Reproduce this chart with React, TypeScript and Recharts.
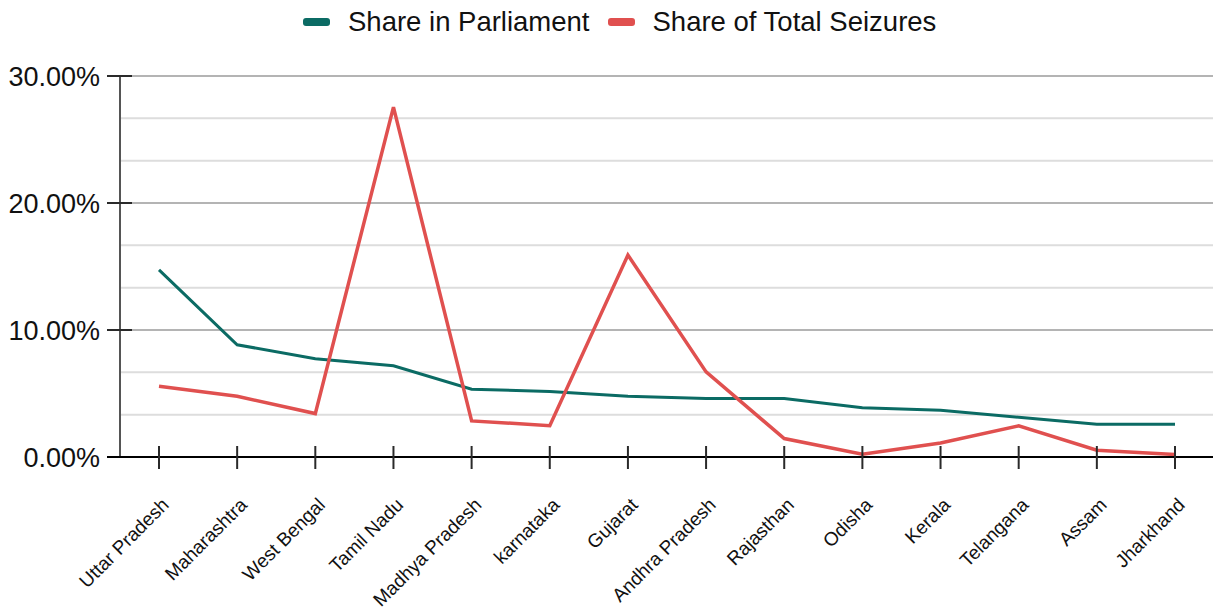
import { LineChart, Line, XAxis, YAxis, ReferenceLine, Legend } from 'recharts'

// states in the order shown on the x axis
const states = [
  'Uttar Pradesh',
  'Maharashtra',
  'West Bengal',
  'Tamil Nadu',
  'Madhya Pradesh',
  'karnataka',
  'Gujarat',
  'Andhra Pradesh',
  'Rajasthan',
  'Odisha',
  'Kerala',
  'Telangana',
  'Assam',
  'Jharkhand',
]

// percent values
const parliamentShare = [14.73, 8.84, 7.73, 7.18, 5.34, 5.16, 4.79, 4.6, 4.6, 3.87, 3.68, 3.13, 2.58, 2.58]
const seizureShare = [5.57, 4.78, 3.42, 27.55, 2.84, 2.47, 15.9, 6.7, 1.45, 0.21, 1.1, 2.45, 0.53, 0.2]

const yTicks = [0, 3.333, 6.667, 10, 13.333, 16.667, 20, 23.333, 26.667, 30]
const yLabelled = [0, 10, 20, 30]

const data = states.map((state, i) => ({
  state,
  parliament: parliamentShare[i],
  seizures: seizureShare[i],
}))

const FONT = '"Liberation Sans", Arial, Helvetica, sans-serif'
const TEAL = '#0b6b64'
const RED = '#e0504f'

function StateTick({ x, y, payload }: any) {
  const tx = x + 11
  const ty = y + 49
  return (
    <g>
      <line x1={x} x2={x} y1={y - 11} y2={y + 12} stroke='#2a2a2a' strokeWidth={2} />
      <text
        x={tx}
        y={ty}
        textAnchor='end'
        transform={`rotate(-45, ${tx}, ${ty})`}
        fontSize={19}
        fontFamily={FONT}
        fill='#111'
      >
        {payload.value}
      </text>
    </g>
  )
}

function PercentTick({ x, y, payload }: any) {
  const value = payload.value
  if (!yLabelled.includes(value)) return <g />
  return (
    <g>
      <line
        x1={x - 13}
        x2={x + 12}
        y1={y}
        y2={y}
        stroke={value === 0 ? '#000' : '#2a2a2a'}
        strokeWidth={2}
      />
      <text
        x={x - 20}
        y={y}
        dy='0.36em'
        textAnchor='end'
        fontSize={27}
        fontFamily={FONT}
        fill='#111'
      >
        {value.toFixed(2)}%
      </text>
    </g>
  )
}

function LegendContent({ payload }: any) {
  return (
    <div
      style={{
        height: 76,
        display: 'flex',
        alignItems: 'flex-start',
        paddingLeft: 303,
        paddingTop: 6,
        boxSizing: 'border-box',
        fontFamily: FONT,
        fontSize: 27.5,
        color: '#111',
      }}
    >
      {(payload || []).map((entry: any) => (
        <div key={entry.value} style={{ display: 'flex', alignItems: 'center', marginRight: 18 }}>
          <span
            style={{
              display: 'inline-block',
              width: 27,
              height: 8,
              borderRadius: 3,
              background: entry.color,
              marginRight: 18,
            }}
          />
          <span>{entry.value}</span>
        </div>
      ))}
    </div>
  )
}

export default function App() {
  return (
    <div
      style={{
        position: 'absolute',
        left: 0,
        top: 0,
        width: 1213,
        height: 614,
        overflow: 'hidden',
        background: '#fff',
      }}
    >
      <LineChart width={1214} height={614} data={data} margin={{ top: 0, right: 0, bottom: 0, left: 0 }}>
        {yTicks.slice(1).map((v) => (
          <ReferenceLine
            key={v}
            y={v}
            stroke={yLabelled.includes(v) ? '#b4b4b4' : '#dddddd'}
            strokeWidth={2}
          />
        ))}
        <XAxis
          dataKey='state'
          interval={0}
          height={157}
          padding={{ left: 39, right: 39 }}
          tickLine={false}
          tickSize={0}
          tickMargin={0}
          axisLine={{ stroke: '#000', strokeWidth: 2 }}
          tick={<StateTick />}
        />
        <YAxis
          domain={[0, 30]}
          ticks={yTicks}
          interval={0}
          width={120}
          tickLine={false}
          tickSize={0}
          tickMargin={0}
          axisLine={{ stroke: '#555', strokeWidth: 2 }}
          tick={<PercentTick />}
        />
        <Legend verticalAlign='top' content={<LegendContent />} />
        <Line
          type='linear'
          dataKey='parliament'
          name='Share in Parliament'
          stroke={TEAL}
          strokeWidth={3}
          dot={false}
          isAnimationActive={false}
        />
        <Line
          type='linear'
          dataKey='seizures'
          name='Share of Total Seizures'
          stroke={RED}
          strokeWidth={3.5}
          dot={false}
          isAnimationActive={false}
        />
      </LineChart>
    </div>
  )
}
